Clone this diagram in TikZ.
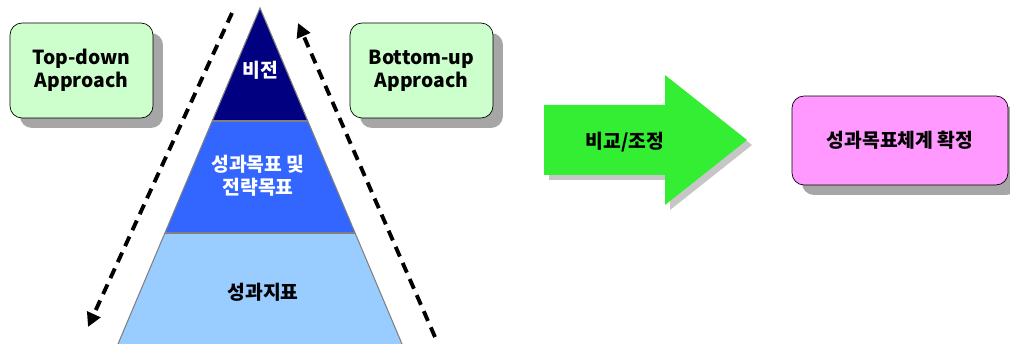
\documentclass[tikz,border=0pt]{standalone}
\usepackage{fontspec}
\setmainfont{Noto Sans CJK KR}
\usetikzlibrary{arrows.meta,shadows}
\definecolor{visionblue}{HTML}{000080}
\definecolor{goalblue}{HTML}{3366FF}
\definecolor{kpiblue}{HTML}{99CCFF}
\definecolor{boxgreen}{HTML}{CCFFCC}
\definecolor{arrowgreen}{HTML}{33EE33}
\definecolor{boxpink}{HTML}{FF99FF}
\tikzset{
  boxshadow/.style={drop shadow={shadow xshift=0.2cm,shadow yshift=-0.2cm,fill=gray!70,opacity=1}},
  approach/.style={draw=black,fill=boxgreen,rounded corners=0.24cm,minimum width=2.86cm,
    minimum height=1.9cm,align=center,boxshadow,font=\fontsize{11}{13}\selectfont\bfseries},
  layer/.style={draw=gray,line width=0.6pt},
  flow/.style={line width=2.2pt,dash pattern=on 6pt off 4pt,-{Triangle[length=8pt,width=8pt]}},
  label/.style={font=\fontsize{11}{13}\selectfont\bfseries,align=center}
}
\begin{document}
\begin{tikzpicture}[x=0.02cm,y=-0.02cm]
\useasboundingbox (0,0) rectangle (1010,344);
\begin{scope}
\clip (0,0) rectangle (1010,344);
% pyramid
\fill[kpiblue] (165,233)--(355,233)--(402,344)--(118,344)--cycle;
\fill[goalblue] (212,121)--(308,121)--(355,233)--(165,233)--cycle;
\fill[visionblue] (260,8)--(308,121)--(212,121)--cycle;
\draw[layer] (118,344)--(260,8)--(402,344);
\draw[layer] (212,121)--(308,121);
\draw[layer] (165,233)--(355,233);
\end{scope}

\node[label,text=white] (vision) at (260,70) {비전};
\node[label,text=white] (goals) at (258,176) {성과목표 및\\전략목표};
\node[label] (kpi) at (263,292) {성과지표};

% approaches
\node[approach] (topdown) at (81.5,70.5) {Top-down\\Approach};
\node[approach] (bottomup) at (421.5,70.5) {Bottom-up\\Approach};

\coordinate (tdtop) at (232,13);
\coordinate (tdbot) at (88,327);
\coordinate (bubot) at (435,337);
\coordinate (butop) at (298,23);
\draw[flow] (tdtop)--(tdbot);
\draw[flow] (bubot)--(butop);

% compare and adjust
\fill[gray!45] (549,110)--(670,110)--(670,80)--(752,145)--(670,210)--(670,180)--(549,180)--cycle;
\fill[arrowgreen] (544,105)--(665,105)--(665,75)--(747,140)--(665,205)--(665,175)--(544,175)--cycle;
\node[label] (compare) at (625,142) {비교/조정};

\node[draw=black,fill=boxpink,rounded corners=0.24cm,minimum width=4.32cm,minimum height=1.78cm,
  boxshadow,label] (system) at (900,140.5) {성과목표체계 확정};
\end{tikzpicture}
\end{document}
